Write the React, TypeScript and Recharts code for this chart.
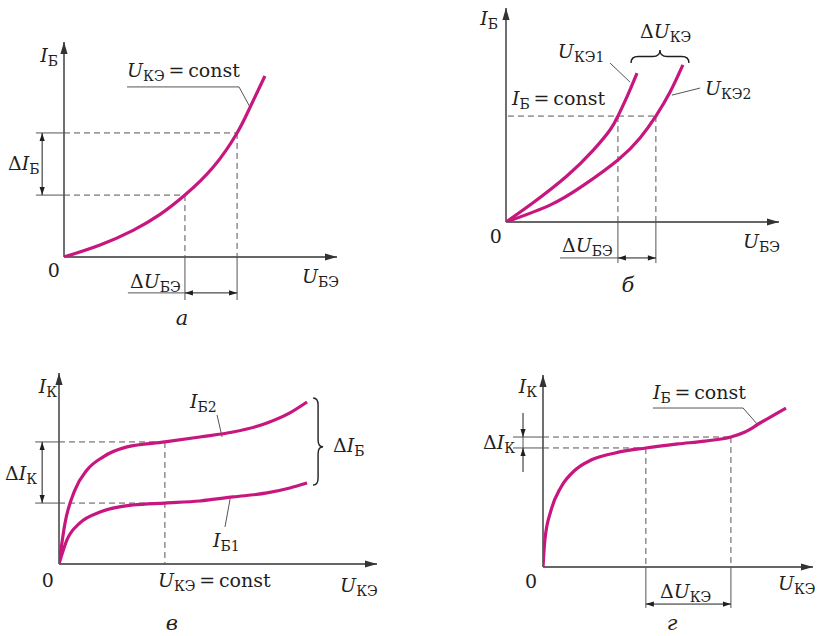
import React from 'react';
import { LineChart, Line, XAxis, YAxis, ReferenceLine, ReferenceDot } from 'recharts';

const MAGENTA = '#c8167f';
const INK = '#1f1f1f';
const GUIDE = '#555555';
const FONT = '"DejaVu Serif", "Liberation Serif", serif';
const W = 817;
const H = 636;

// а — I_Б(U_БЭ) at U_КЭ = const
const aUbe = [0, 1.32, 2.53, 3.52, 4.43, 5.46, 6.34, 6.81, 7.36];
const aIb = [0, 0.56, 1.24, 1.98, 2.88, 4.17, 5.77, 6.95, 8.42];
const aWorkU = [4.43, 6.34];
const aWorkI = [2.88, 5.77];

// б — two input curves for U_КЭ1 and U_КЭ2
const bUbe1 = [0, 0.99, 2.23, 3.19, 3.81, 4.1, 4.43, 4.8];
const bIb1 = [0, 0.9, 2.15, 3.35, 4.3, 4.95, 5.85, 6.96];
const bUbe2 = [0, 1.61, 2.82, 4.1, 4.91, 5.49, 6.01, 6.48];
const bIb2 = [0, 0.79, 1.7, 2.9, 3.93, 4.95, 6.07, 7.34];
const bWorkI = 4.95;
const bWorkU = [4.1, 5.49];

// в — output curves for I_Б1 and I_Б2
const cUce2 = [0, 0.19, 0.5, 0.88, 1.38, 2.14, 3.33, 4.43, 5.47, 6.54, 7.26, 7.8];
const cIk2 = [0, 2.15, 3.87, 4.92, 5.6, 6.13, 6.39, 6.65, 6.91, 7.38, 7.91, 8.48];
const cUce1 = [0, 0.25, 0.66, 1.29, 2.33, 3.33, 4.43, 5.47, 6.54, 7.26, 7.8];
const cIk1 = [0, 1.26, 2.15, 2.72, 3.09, 3.19, 3.3, 3.51, 3.72, 3.98, 4.24];
const cWorkU = 3.33;
const cWorkI = [3.19, 6.39];

// г — output curve at I_Б = const
const dUce = [0, 0.07, 0.3, 0.67, 1.19, 1.78, 2.67, 3.81, 5.0, 6.0, 6.96, 7.48, 8.04, 9.0];
const dIk = [0, 1.41, 2.97, 4.17, 5.05, 5.57, 5.94, 6.2, 6.41, 6.56, 6.77, 7.03, 7.5, 8.28];
const dWorkU = [3.81, 6.96];
const dWorkI = [6.2, 6.77];

const pts = (xs: number[], ys: number[]) => xs.map((x, i) => ({ x, y: ys[i] }));

// origin and arrow tips of each panel, in page pixels
const frames = {
  a: { ox: 64, oy: 257, tx: 337, ty: 42 },
  b: { ox: 506, oy: 222, tx: 779, ty: 8 },
  c: { ox: 59, oy: 564, tx: 377, ty: 373 },
  d: { ox: 543, oy: 567, tx: 813, ty: 375 },
};

function head(x: number, y: number, ang: number, len: number, half: number) {
  const bx = x - Math.cos(ang) * len;
  const by = y - Math.sin(ang) * len;
  const nx = -Math.sin(ang) * half;
  const ny = Math.cos(ang) * half;
  return `${x},${y} ${bx + nx},${by + ny} ${bx - nx},${by - ny}`;
}

type SegOpts = { color?: string; width?: number; dash?: string; start?: boolean; end?: boolean; len?: number; half?: number };

const seg = (o: SegOpts) => (p: any) => {
  const { x1, y1, x2, y2 } = p;
  const ang = Math.atan2(y2 - y1, x2 - x1);
  const color = o.color ?? GUIDE;
  const len = o.len ?? 8;
  const half = o.half ?? 2.6;
  return (
    <g>
      <line x1={x1} y1={y1} x2={x2} y2={y2} stroke={color} strokeWidth={o.width ?? 1} strokeDasharray={o.dash} />
      {o.end && <polygon points={head(x2, y2, ang, len, half)} fill={color} />}
      {o.start && <polygon points={head(x1, y1, ang + Math.PI, len, half)} fill={color} />}
    </g>
  );
};

const brace = (depth: number, at = 0.5) => (p: any) => {
  const { x1, y1, x2, y2 } = p;
  const L = Math.hypot(x2 - x1, y2 - y1);
  const ux = (x2 - x1) / L;
  const uy = (y2 - y1) / L;
  const nx = uy;
  const ny = -ux;
  const pt = (t: number, n: number) => `${x1 + ux * t + nx * n},${y1 + uy * t + ny * n}`;
  const h = depth;
  const q = Math.min(7, L / 6);
  const m = L * at;
  const d = `M${pt(0, 0)} Q${pt(0, h / 2)} ${pt(q, h / 2)} L${pt(m - q, h / 2)} Q${pt(m, h / 2)} ${pt(m, h)} Q${pt(m, h / 2)} ${pt(m + q, h / 2)} L${pt(L - q, h / 2)} Q${pt(L, h / 2)} ${pt(L, 0)}`;
  return <path d={d} fill="none" stroke={INK} strokeWidth={1.4} />;
};

type Part = [string, 'i' | 'r' | 's'];

const tex = (parts: Part[], anchor: 'start' | 'middle' | 'end' = 'start', size = 19) => (p: any) => {
  let inSub = false;
  return (
    <text x={p.cx} y={p.cy} fontFamily={FONT} fill={INK} fontSize={size} textAnchor={anchor}>
      {parts.map(([t, k], i) => {
        let dy = 0;
        if (k === 's' && !inSub) dy = 4;
        if (k !== 's' && inSub) dy = -4;
        inSub = k === 's';
        return (
          <tspan key={i} dy={dy} fontStyle={k === 'i' ? 'italic' : 'normal'} fontSize={k === 's' ? size - 5 : size}>
            {t}
          </tspan>
        );
      })}
    </text>
  );
};

const Lbl = (x: number, y: number, parts: Part[], anchor: 'start' | 'middle' | 'end' = 'start', size = 19) => (
  <ReferenceDot x={x} y={y} r={0} ifOverflow="visible" shape={tex(parts, anchor, size)} />
);

const Seg = (a: [number, number], b: [number, number], o: SegOpts) => (
  <ReferenceLine segment={[{ x: a[0], y: a[1] }, { x: b[0], y: b[1] }]} ifOverflow="visible" shape={seg(o)} />
);

const dashed = { dash: '6 4', color: GUIDE, width: 1 };
const thin = { color: GUIDE, width: 1 };
const both = { color: INK, width: 1, start: true, end: true };
const axis = { color: '#333333', width: 1.4, end: true, len: 12, half: 3.6 };

function Panel({ f, children }: { f: { ox: number; oy: number; tx: number; ty: number }; children: React.ReactNode }) {
  return (
    <div style={{ position: 'absolute', left: 0, top: 0 }}>
      <LineChart
        width={W}
        height={H}
        margin={{ left: f.ox, top: f.ty, right: W - f.tx, bottom: H - f.oy }}
      >
        <XAxis type="number" dataKey="x" domain={[0, 10]} hide allowDataOverflow />
        <YAxis type="number" dataKey="y" domain={[0, 10]} hide allowDataOverflow />
        {Seg([0, 0], [10, 0], axis)}
        {Seg([0, 0], [0, 10], axis)}
        {children}
      </LineChart>
    </div>
  );
}

const curve = (data: { x: number; y: number }[], key: string, kind: 'natural' | 'monotone' = 'monotone') => (
  <Line
    key={key}
    data={data}
    dataKey="y"
    type={kind}
    stroke={MAGENTA}
    strokeWidth={3.2}
    dot={false}
    isAnimationActive={false}
  />
);

export default function App() {
  return (
    <div style={{ position: 'absolute', left: 0, top: 0, width: W, height: H, background: '#fff', overflow: 'hidden' }}>
      {/* а */}
      <Panel f={frames.a}>
        {Seg([-1.03, aWorkI[1]], [0, aWorkI[1]], thin)}
        {Seg([0, aWorkI[1]], [aWorkU[1], aWorkI[1]], dashed)}
        {Seg([-1.03, aWorkI[0]], [0, aWorkI[0]], thin)}
        {Seg([0, aWorkI[0]], [aWorkU[0], aWorkI[0]], dashed)}
        {Seg([aWorkU[0], aWorkI[0]], [aWorkU[0], 0], dashed)}
        {Seg([aWorkU[1], aWorkI[1]], [aWorkU[1], 0], dashed)}
        {Seg([aWorkU[0], 0], [aWorkU[0], -2.0], thin)}
        {Seg([aWorkU[1], 0], [aWorkU[1], -2.0], thin)}
        {Seg([-0.8, aWorkI[0]], [-0.8, aWorkI[1]], both)}
        {Seg([aWorkU[0], -1.67], [aWorkU[1], -1.67], both)}
        {Seg([2.34, -1.67], [aWorkU[0], -1.67], thin)}
        {Seg([2.31, 7.91], [6.41, 7.91], thin)}
        {Seg([6.41, 7.91], [6.81, 6.98], thin)}
        {curve(pts(aUbe, aIb), 'a', 'natural')}
        {Lbl(-0.22, 9.07, [['I', 'i'], ['Б', 's']], 'end')}
        {Lbl(2.31, 8.37, [['U', 'i'], ['КЭ', 's'], ['\u2009=\u2009const', 'r']])}
        {Lbl(-2.05, 4.05, [['Δ', 'r'], ['I', 'i'], ['Б', 's']])}
        {Lbl(-0.37, -0.93, [['0', 'r']], 'middle')}
        {Lbl(8.72, -1.21, [['U', 'i'], ['БЭ', 's']])}
        {Lbl(2.42, -1.44, [['Δ', 'r'], ['U', 'i'], ['БЭ', 's']])}
        {Lbl(4.32, -3.16, [['а', 'i']], 'middle', 21)}
      </Panel>

      {/* б */}
      <Panel f={frames.b}>
        {Seg([0.07, bWorkI], [bWorkU[1], bWorkI], dashed)}
        {Seg([bWorkU[0], bWorkI], [bWorkU[0], 0], dashed)}
        {Seg([bWorkU[1], bWorkI], [bWorkU[1], 0], dashed)}
        {Seg([bWorkU[0], 0], [bWorkU[0], -1.92], thin)}
        {Seg([bWorkU[1], 0], [bWorkU[1], -1.92], thin)}
        {Seg([bWorkU[0], -1.68], [bWorkU[1], -1.68], both)}
        {Seg([1.98, -1.68], [bWorkU[0], -1.68], thin)}
        {Seg([3.81, 7.43], [4.54, 6.54], thin)}
        {Seg([7.11, 6.26], [6.08, 5.93], thin)}
        <ReferenceLine segment={[{ x: 4.58, y: 7.43 }, { x: 6.7, y: 7.43 }]} ifOverflow="visible" shape={brace(13)} />
        {curve(pts(bUbe1, bIb1), 'b1', 'natural')}
        {curve(pts(bUbe2, bIb2), 'b2', 'natural')}
        {Lbl(-0.29, 9.21, [['I', 'i'], ['Б', 's']], 'end')}
        {Lbl(1.9, 7.66, [['U', 'i'], ['КЭ1', 's']])}
        {Lbl(4.91, 8.6, [['Δ', 'r'], ['U', 'i'], ['КЭ', 's']])}
        {Lbl(7.29, 5.93, [['U', 'i'], ['КЭ2', 's']])}
        {Lbl(0.22, 5.47, [['I', 'i'], ['Б', 's'], ['\u2009=\u2009const', 'r']])}
        {Lbl(-0.37, -0.98, [['0', 'r']], 'middle')}
        {Lbl(8.68, -1.21, [['U', 'i'], ['БЭ', 's']])}
        {Lbl(2.05, -1.4, [['Δ', 'r'], ['U', 'i'], ['БЭ', 's']])}
        {Lbl(4.47, -3.27, [['б', 'i']], 'middle', 21)}
      </Panel>

      {/* в */}
      <Panel f={frames.c}>
        {Seg([-0.75, cWorkI[1]], [0, cWorkI[1]], thin)}
        {Seg([0, cWorkI[1]], [cWorkU, cWorkI[1]], dashed)}
        {Seg([-0.75, cWorkI[0]], [0, cWorkI[0]], thin)}
        {Seg([0, cWorkI[0]], [cWorkU, cWorkI[0]], dashed)}
        {Seg([cWorkU, cWorkI[1]], [cWorkU, 0], dashed)}
        {Seg([-0.53, cWorkI[0]], [-0.53, cWorkI[1]], both)}
        {Seg([4.97, 7.8], [5.13, 6.65], thin)}
        {Seg([5.38, 3.4], [5.22, 1.94], thin)}
        <ReferenceLine segment={[{ x: 7.99, y: 8.69 }, { x: 7.99, y: 4.14 }]} ifOverflow="visible" shape={brace(10, 0.56)} />
        {curve(pts(cUce2, cIk2), 'c2')}
        {curve(pts(cUce1, cIk1), 'c1')}
        {Lbl(-0.06, 8.95, [['I', 'i'], ['К', 's']], 'end')}
        {Lbl(-1.7, 4.4, [['Δ', 'r'], ['I', 'i'], ['К', 's']])}
        {Lbl(4.12, 8.17, [['I', 'i'], ['Б2', 's']])}
        {Lbl(4.84, 0.89, [['I', 'i'], ['Б1', 's']])}
        {Lbl(8.62, 5.86, [['Δ', 'r'], ['I', 'i'], ['Б', 's']])}
        {Lbl(3.11, -1.2, [['U', 'i'], ['КЭ', 's'], ['\u2009=\u2009const', 'r']])}
        {Lbl(-0.35, -1.2, [['0', 'r']], 'middle')}
        {Lbl(8.84, -1.47, [['U', 'i'], ['КЭ', 's']])}
        {Lbl(3.55, -3.46, [['в', 'i']], 'middle', 21)}
      </Panel>

      {/* г */}
      <Panel f={frames.d}>
        {Seg([-1.11, dWorkI[1]], [0, dWorkI[1]], thin)}
        {Seg([0, dWorkI[1]], [dWorkU[1], dWorkI[1]], dashed)}
        {Seg([-1.11, dWorkI[0]], [0, dWorkI[0]], thin)}
        {Seg([0, dWorkI[0]], [dWorkU[0], dWorkI[0]], dashed)}
        {Seg([dWorkU[0], dWorkI[0]], [dWorkU[0], 0], dashed)}
        {Seg([dWorkU[1], dWorkI[1]], [dWorkU[1], 0], dashed)}
        {Seg([dWorkU[0], 0], [dWorkU[0], -2.14], thin)}
        {Seg([dWorkU[1], 0], [dWorkU[1], -2.14], thin)}
        {Seg([dWorkU[0], -1.93], [dWorkU[1], -1.93], both)}
        {Seg([-0.74, 8.02], [-0.74, dWorkI[1]], { color: INK, width: 1, end: true })}
        {Seg([-0.74, 4.95], [-0.74, dWorkI[0]], { color: INK, width: 1, end: true })}
        {Seg([-0.74, dWorkI[0]], [-0.74, dWorkI[1]], thin)}
        {Seg([4.07, 8.28], [7.41, 8.28], thin)}
        {Seg([7.41, 8.28], [7.96, 7.4], thin)}
        {curve(pts(dUce, dIk), 'd')}
        {Lbl(-0.22, 9.06, [['I', 'i'], ['К', 's']], 'end')}
        {Lbl(-2.22, 6.15, [['Δ', 'r'], ['I', 'i'], ['К', 's']])}
        {Lbl(4.07, 8.75, [['I', 'i'], ['Б', 's'], ['\u2009=\u2009const', 'r']])}
        {Lbl(-0.44, -1.09, [['0', 'r']], 'middle')}
        {Lbl(8.7, -1.2, [['U', 'i'], ['КЭ', 's']])}
        {Lbl(4.33, -1.61, [['Δ', 'r'], ['U', 'i'], ['КЭ', 's']])}
        {Lbl(4.78, -3.28, [['г', 'i']], 'middle', 21)}
      </Panel>
    </div>
  );
}
